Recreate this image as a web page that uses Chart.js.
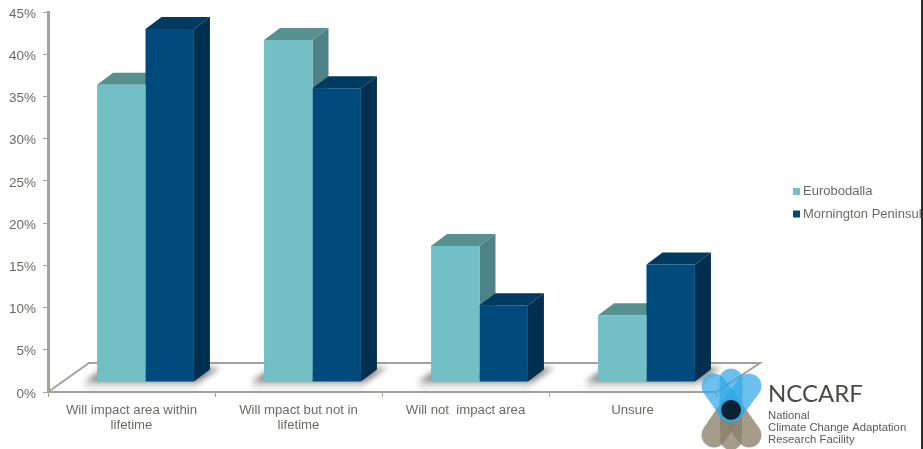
<!DOCTYPE html>
<html>
<head>
<meta charset="utf-8">
<title>Perceived impact of sea level rise</title>
<script src="https://cdn.jsdelivr.net/npm/chart.js@4"></script>
<style>
  html, body { margin: 0; padding: 0; background: #fff; }
  #wrap { width: 921px; height: 449px; border-right: 2px solid #2a2a2a; }
  canvas { display: block; }
</style>
</head>
<body>
<div id="wrap"><canvas id="c" width="921" height="449"></canvas></div>
<script>
const categories = [
  ['Will impact area within', 'lifetime'],
  ['Will mpact but not in', 'lifetime'],
  'Will not  impact area',
  'Unsure'
];
const eurobodalla = [35.2, 40.5, 16.1, 7.9];
const mornington = [41.8, 34.8, 9.1, 13.9];
const yTicks = [0, 5, 10, 15, 20, 25, 30, 35, 40, 45];

const TEXT = '#6e6964';
const AXIS = '#a5a29c';
const FONT = '"Liberation Sans", Arial, sans-serif';

// Offset of the bar plane from the axis plane, and the depth of each extruded bar.
const PLANE = { x: 14, y: -10 };
const DEPTH = { x: 16, y: 12 };

const faceColours = [
  { top: '#56908f', side: '#4d8387' },
  { top: '#003a60', side: '#002f4f' }
];

function poly(ctx, pts, fill) {
  ctx.beginPath();
  pts.forEach((p, i) => i ? ctx.lineTo(p[0], p[1]) : ctx.moveTo(p[0], p[1]));
  ctx.closePath();
  ctx.fillStyle = fill;
  ctx.fill();
}

// Floor parallelogram: front edge on the x axis, back edge up and to the right.
const floorPlugin = {
  id: 'floor',
  beforeDatasetsDraw(chart) {
    const { ctx, chartArea: a } = chart;
    ctx.save();
    ctx.strokeStyle = AXIS;
    ctx.lineWidth = 2;
    ctx.beginPath();
    ctx.moveTo(a.left, a.bottom);
    ctx.lineTo(a.left + 41, a.bottom - 29);
    ctx.lineTo(a.right + 44, a.bottom - 29);
    ctx.lineTo(a.right, a.bottom);
    ctx.stroke();
    ctx.restore();
  }
};

// Shadows and top/side faces of the bars; the library then paints the front faces.
const extrudePlugin = {
  id: 'extrude',
  beforeDatasetsDraw(chart) {
    const { ctx } = chart;
    ctx.save();
    ctx.translate(PLANE.x, PLANE.y);

    const first = chart.getDatasetMeta(0).data;
    const second = chart.getDatasetMeta(1).data;
    first.forEach((bar, i) => {
      const l = bar.x - bar.width / 2;
      const r = second[i].x + second[i].width / 2;
      const b = bar.base;
      ctx.save();
      ctx.filter = 'blur(3px)';
      poly(ctx, [[l - 13, b + 1], [l + 2, b - 10], [r + 26, b - 14], [r + 4, b + 1]], 'rgba(50,50,50,0.6)');
      poly(ctx, [[l - 12, b + 4], [r + 3, b + 4], [r + 3, b + 8], [l - 12, b + 8]], 'rgba(120,120,120,0.22)');
      ctx.restore();
    });

    [0, 1].forEach(d => {
      chart.getDatasetMeta(d).data.forEach(bar => {
        const l = bar.x - bar.width / 2;
        const r = bar.x + bar.width / 2;
        const t = bar.y;
        const b = bar.base;
        poly(ctx, [[r, t], [r + DEPTH.x, t - DEPTH.y], [r + DEPTH.x, b - DEPTH.y], [r, b]], faceColours[d].side);
        poly(ctx, [[l, t], [l + DEPTH.x, t - DEPTH.y], [r + DEPTH.x, t - DEPTH.y], [r, t]], faceColours[d].top);
      });
    });
    ctx.restore();

    ctx.save();
    ctx.translate(PLANE.x, PLANE.y);
  },
  afterDatasetsDraw(chart) {
    chart.ctx.restore();
  }
};

const legendPlugin = {
  id: 'sideLegend',
  afterDraw(chart) {
    const { ctx } = chart;
    ctx.save();
    ctx.font = '13px ' + FONT;
    ctx.textBaseline = 'middle';
    chart.data.datasets.forEach((ds, i) => {
      const y = 191.5 + i * 22.5;
      ctx.fillStyle = ds.backgroundColor;
      ctx.fillRect(793, y - 3.5, 7, 7);
      ctx.fillStyle = TEXT;
      ctx.fillText(ds.label, 803, y);
    });
    ctx.restore();
  }
};

// Organisation mark: six translucent petals around a dark centre, with its name.
const brandPlugin = {
  id: 'brand',
  afterDraw(chart) {
    const { ctx } = chart;
    const cx = 731, cy = 410;
    const petal = (x, y, w, colour) => {
      ctx.strokeStyle = colour;
      ctx.lineWidth = w;
      ctx.lineCap = 'round';
      ctx.beginPath();
      ctx.moveTo(cx, cy);
      ctx.lineTo(x, y);
      ctx.stroke();
    };
    ctx.save();
    [[714, 435, 25], [731, 439, 22], [749, 435, 25]].forEach(p => petal(p[0], p[1], p[2], 'rgba(140,128,108,0.78)'));
    [[714, 386, 25], [731, 380, 23], [749, 386, 25]].forEach(p => petal(p[0], p[1], p[2], 'rgba(50,168,232,0.72)'));
    ctx.fillStyle = '#0c2233';
    ctx.beginPath();
    ctx.arc(cx, cy, 10, 0, Math.PI * 2);
    ctx.fill();

    ctx.fillStyle = '#4c4b48';
    ctx.textBaseline = 'alphabetic';
    ctx.font = '24px Lato, ' + FONT;
    ctx.fillText('NCCARF', 768, 402);
    ctx.fillStyle = '#5a5a56';
    ctx.font = '11.3px ' + FONT;
    ctx.fillText('National', 768, 419);
    ctx.fillText('Climate Change Adaptation', 768, 431);
    ctx.fillText('Research Facility', 768, 443);
    ctx.restore();
  }
};

new Chart(document.getElementById('c'), {
  type: 'bar',
  data: {
    labels: categories,
    datasets: [
      { label: 'Eurobodalla', data: eurobodalla, backgroundColor: '#72bfc5', clip: false },
      { label: 'Mornington Peninsula', data: mornington, backgroundColor: '#004b7c', clip: false }
    ]
  },
  plugins: [floorPlugin, extrudePlugin, legendPlugin, brandPlugin],
  options: {
    responsive: false,
    animation: false,
    datasets: { bar: { categoryPercentage: 0.58, barPercentage: 1 } },
    layout: { padding: { top: 12, right: 205, left: 0, bottom: 0 }, autoPadding: false },
    plugins: { legend: { display: false }, tooltip: { enabled: false } },
    scales: {
      x: {
        afterFit(s) { s.height = 57; },
        border: { color: AXIS, width: 2 },
        grid: { drawOnChartArea: false, tickLength: 5, color: AXIS, offset: true },
        ticks: {
          color: TEXT,
          font: { family: FONT, size: 13.2, lineHeight: 1.2 },
          maxRotation: 0,
          autoSkip: false,
          padding: 5
        }
      },
      y: {
        min: 0,
        max: 45,
        afterFit(s) { s.width = 48; s.paddingTop = 0; s.paddingBottom = 0; },
        afterBuildTicks(s) { s.ticks = yTicks.map(v => ({ value: v })); },
        border: { color: AXIS, width: 3 },
        grid: { drawOnChartArea: false, tickLength: 5, color: AXIS },
        ticks: {
          color: TEXT,
          font: { family: FONT, size: 13.5 },
          padding: 7,
          labelOffset: 2,
          callback: v => v + '%'
        }
      }
    }
  }
});
</script>
</body>
</html>
